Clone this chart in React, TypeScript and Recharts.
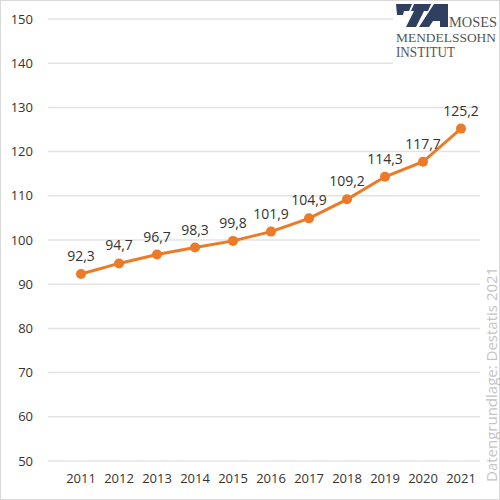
import React from "react";
import { LineChart, Line, XAxis, YAxis, CartesianGrid, LabelList } from "recharts";

const years = ["2011", "2012", "2013", "2014", "2015", "2016", "2017", "2018", "2019", "2020", "2021"];
const indexValues = [92.3, 94.7, 96.7, 98.3, 99.8, 101.9, 104.9, 109.2, 114.3, 117.7, 125.2];
const yTicks = [50, 60, 70, 80, 90, 100, 110, 120, 130, 140, 150];

const data = years.map((year, i) => ({ year, value: indexValues[i] }));

const ORANGE = "#EC7A26";
const NAVY = "#2F3F5F";
const FONT = "'Open Sans', 'Noto Sans', sans-serif";
const SERIF = "'Liberation Serif', serif";

const formatDe = (v: number) => v.toFixed(1).replace(".", ",");

function Overlay() {
  return (
    <svg
      width={500}
      height={500}
      style={{ position: "absolute", left: 0, top: 0, pointerEvents: "none" }}
    >
      <rect x={0.5} y={0.5} width={499} height={499} fill="none" stroke="#d9d9d9" />
      {/* logo */}
      <rect x={393} y={2} width={106} height={64} fill="#fff" />
      <polygon points="396,4 412,4 409,11 404,11 403,15 397,15" fill={NAVY} />
      <polygon points="414,4 431,4 428,11 424,11 416,27 406,27 414,11 411,11" fill={NAVY} />
      <polygon points="434,4 448,4 448,27 440,27 440,21 433,21 429,27 419,27" fill={NAVY} />
      <text x={449} y={27} fontFamily={SERIF} fontSize={14} fill="#555" textLength={48} lengthAdjust="spacingAndGlyphs">
        MOSES
      </text>
      <text x={396} y={42} fontFamily={SERIF} fontSize={13.5} fill="#555" textLength={100} lengthAdjust="spacingAndGlyphs">
        MENDELSSOHN
      </text>
      <text x={396} y={57} fontFamily={SERIF} fontSize={14} fill="#555" textLength={59} lengthAdjust="spacingAndGlyphs">
        INSTITUT
      </text>
      <text
        x={491}
        y={482}
        transform="rotate(-90 491 482)"
        dominantBaseline="central"
        fontFamily={FONT}
        fontSize={15}
        fill="#c4c4c4"
      >
        Datengrundlage: Destatis 2021
      </text>
    </svg>
  );
}

export default function App() {
  return (
    <div style={{ position: "absolute", left: 0, top: 0, width: 500, height: 500, background: "#fff" }}>
      <LineChart
        width={500}
        height={500}
        data={data}
        margin={{ top: 19, right: 20, left: 0, bottom: 0 }}
      >
        <CartesianGrid vertical={false} stroke="#e3e3e3" strokeWidth={1.5} />
        <XAxis
          dataKey="year"
          height={39}
          axisLine={false}
          tickLine={false}
          tickSize={0}
          tickMargin={13}
          padding={{ left: 33, right: 19 }}
          interval={0}
          tick={{ fontSize: 13, fill: "#333", fontFamily: FONT }}
        />
        <YAxis
          width={48}
          domain={[50, 150]}
          ticks={yTicks}
          axisLine={false}
          tickLine={false}
          tickSize={0}
          tickMargin={15}
          interval={0}
          tick={{ fontSize: 13, fill: "#333", fontFamily: FONT }}
        />
        <Line
          type="linear"
          dataKey="value"
          stroke={ORANGE}
          strokeWidth={3}
          dot={{ r: 5, fill: ORANGE, stroke: ORANGE, strokeWidth: 0 }}
          isAnimationActive={false}
        >
          <LabelList
            dataKey="value"
            position="top"
            offset={13}
            formatter={(v: any) => formatDe(Number(v))}
            style={{ fontSize: 14, fill: "#333", fontFamily: FONT }}
          />
        </Line>
      </LineChart>
      <Overlay />
    </div>
  );
}
